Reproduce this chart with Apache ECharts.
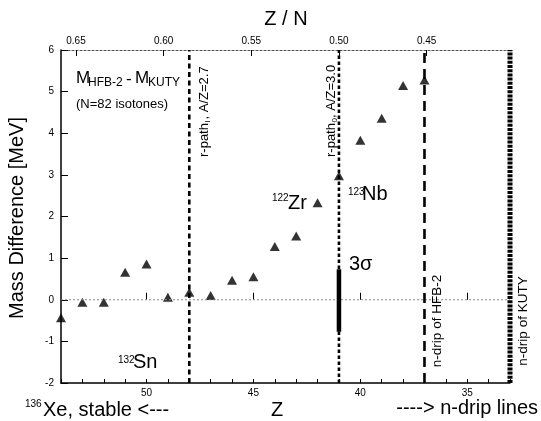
<!DOCTYPE html>
<html>
<head>
<meta charset="utf-8">
<script src="https://cdn.jsdelivr.net/npm/echarts@6/dist/echarts.min.js"></script>
<style>
  html, body { margin: 0; padding: 0; background: #fff; }
  #chart { width: 541px; height: 421px; }
</style>
</head>
<body>
<div id="chart"></div>
<script>
// N = 82 isotones: mass difference M(HFB-2) - M(KUTY) versus proton number Z
const protonNumbers = [54, 53, 52, 51, 50, 49, 48, 47, 46, 45, 44, 43, 42, 41, 40, 39, 38, 37];
const massDiffMeV   = [-0.43, -0.06, -0.06, 0.66, 0.86, 0.06, 0.18, 0.10, 0.47, 0.55, 1.28, 1.53, 2.33, 2.98, 3.83, 4.36, 5.15, 5.28];

const neutronNumber = 82;
const zRange = [33, 54];
const yRange = [-2, 6];
const bottomTickLabels = [35, 40, 45, 50];
const topTickLabels = [0.45, 0.50, 0.55, 0.60, 0.65];

// reference lines in Z
const rPathIZ = 48;     // A/Z = 2.7
const rPath0Z = 41;     // A/Z = 3.0
const dripHFB2Z = 37;
const dripKUTYZ = 33;

// 3 sigma band drawn at Z = 41
const sigmaZ = 41;
const sigmaSpan = [-0.77, 0.73];

const FONT = '"Liberation Sans", Arial, Helvetica, sans-serif';

const minorTicks = [];
for (let z = zRange[0]; z <= zRange[1]; z++) minorTicks.push(z);

function txt(x, y, s, size, extra) {
  return Object.assign({
    type: 'text', x: x, y: y, silent: true,
    style: Object.assign({ text: s, fontSize: size, fontFamily: FONT, fill: '#000',
      align: 'left', verticalAlign: 'middle' }, (extra && extra.style) || {})
  }, extra && extra.el ? extra.el : {});
}

function vtext(x, y, parts) {
  // text reading bottom-to-top; parts laid out along the local x axis
  return { type: 'group', x: x, y: y, rotation: Math.PI / 2, silent: true,
    children: parts.map(function (p) {
      return txt(p[0], p[1], p[2], p[3], { style: { align: p[4] || 'left' } });
    }) };
}

// full-height vertical line at a given Z
function vline(z, width, dash) {
  return {
    type: 'line', xAxisIndex: 0, yAxisIndex: 0, silent: true, clip: false,
    showSymbol: false, symbol: 'none',
    lineStyle: { color: '#000', width: width, type: dash, cap: 'butt' },
    data: [[z, yRange[0]], [z, yRange[1]]]
  };
}

const chart = echarts.init(document.getElementById('chart'), null, { renderer: 'canvas' });

const option = {
  animation: false,
  backgroundColor: '#fff',
  grid: { left: 61, right: 31, top: 50, bottom: 38, containLabel: false },
  xAxis: [
    {
      type: 'value', position: 'bottom', inverse: true,
      min: zRange[0], max: zRange[1],
      axisLine: { show: true, onZero: false, lineStyle: { color: '#000', width: 1.5 } },
      axisTick: { show: true, inside: true, length: 4, customValues: minorTicks,
        lineStyle: { color: '#000', width: 1 } },
      axisLabel: { show: true, customValues: bottomTickLabels, margin: 5,
        fontSize: 10, fontFamily: FONT, color: '#000' },
      splitLine: { show: false }
    },
    {
      // longer ticks at the labelled Z values
      type: 'value', position: 'bottom', inverse: true,
      min: zRange[0], max: zRange[1],
      axisLine: { show: false },
      axisTick: { show: true, inside: true, length: 7, customValues: bottomTickLabels,
        lineStyle: { color: '#000', width: 1 } },
      axisLabel: { show: false },
      splitLine: { show: false }
    },
    {
      // Z / N scale on top (N = 82)
      type: 'value', position: 'top', inverse: true,
      min: zRange[0] / neutronNumber, max: zRange[1] / neutronNumber,
      axisLine: { show: true, onZero: false, lineStyle: { color: '#555', width: 1.2, type: [2, 2] } },
      axisTick: { show: true, inside: true, length: 6, customValues: topTickLabels,
        lineStyle: { color: '#000', width: 1 } },
      axisLabel: { show: true, customValues: topTickLabels, margin: 4,
        fontSize: 10, fontFamily: FONT, color: '#000',
        formatter: function (v) { return v.toFixed(2); } },
      splitLine: { show: false }
    }
  ],
  yAxis: {
    type: 'value', min: yRange[0], max: yRange[1], interval: 1,
    axisLine: { show: true, lineStyle: { color: '#000', width: 1.5 } },
    axisTick: { show: true, inside: true, length: 7, lineStyle: { color: '#000', width: 1 } },
    axisLabel: { margin: 7, fontSize: 10, fontFamily: FONT, color: '#000' },
    splitLine: { show: false }
  },
  series: [
    {
      // zero line
      type: 'line', xAxisIndex: 0, yAxisIndex: 0, silent: true,
      showSymbol: false, symbol: 'none',
      lineStyle: { color: '#888', width: 1, type: [2, 2] },
      data: [[zRange[1], 0], [zRange[0], 0]]
    },
    vline(rPathIZ, 2.6, [5, 3.5]),
    vline(rPath0Z, 2.6, [3.5, 2.5]),
    vline(dripHFB2Z, 2.6, [10, 6]),
    vline(dripKUTYZ, 5, [3, 1.2]),
    {
      // 3 sigma bar
      type: 'line', xAxisIndex: 0, yAxisIndex: 0, silent: true,
      showSymbol: false, symbol: 'none',
      lineStyle: { color: '#000', width: 4.5 },
      data: [[sigmaZ, sigmaSpan[0]], [sigmaZ, sigmaSpan[1]]]
    },
    {
      type: 'scatter', xAxisIndex: 0, yAxisIndex: 0, silent: true,
      symbol: 'triangle', symbolSize: [10, 9],
      itemStyle: { color: '#000' },
      data: protonNumbers.map(function (z, i) { return [z, massDiffMeV[i]]; })
    }
  ],
  graphic: [
    txt(286, 19, 'Z / N', 20, { style: { align: 'center' } }),
    vtext(17, 218, [[0, 0, 'Mass Difference [MeV]', 20, 'center']]),
    txt(277, 410, 'Z', 20, { style: { align: 'center' } }),
    txt(25, 404, '136', 10),
    txt(43, 410, 'Xe, stable <---', 20),
    txt(538, 408, '----> n-drip lines', 20, { style: { align: 'right' } }),

    txt(76, 78.5, 'M', 17),
    txt(88, 83, 'HFB-2', 12),
    txt(126, 79, '-', 17),
    txt(135, 78.5, 'M', 17),
    txt(148, 83, 'KUTY', 12),
    txt(76, 104.5, '(N=82 isotones)', 13),

    txt(118, 360, '132', 10),
    txt(133, 362.5, 'Sn', 20),
    txt(272, 198.5, '122', 10),
    txt(288, 203.5, 'Zr', 20),
    txt(348, 192, '123', 10),
    txt(362, 194.5, 'Nb', 20),
    txt(349, 264, '3σ', 20),

    vtext(204, 157, [[0, 0, 'r-path', 13], [34.5, 3.5, 'I', 8], [37.5, 0, ', A/Z=2.7', 13]]),
    vtext(331, 157, [[0, 0, 'r-path', 13], [34.5, 3.5, '0', 8], [39, 0, ', A/Z=3.0', 13]]),
    vtext(437, 321, [[0, 0, 'n-drip of HFB-2', 13.5, 'center']]),
    vtext(523, 321, [[0, 0, 'n-drip of KUTY', 13.5, 'center']])
  ]
};

chart.setOption(option);
</script>
</body>
</html>
